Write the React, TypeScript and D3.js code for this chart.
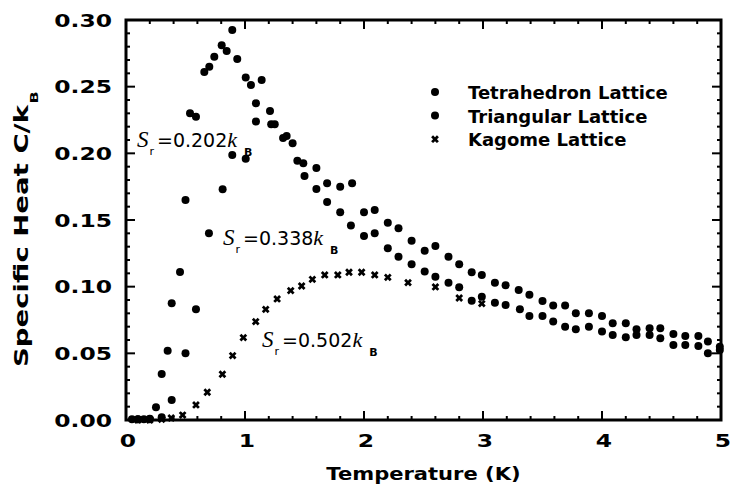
import React from "react";
import * as d3 from "d3";

// ---- data ----
const tetraT = [0.05, 0.1, 0.15, 0.2, 0.252, 0.3, 0.35, 0.384, 0.454, 0.5, 0.538, 0.588, 0.658, 0.7, 0.742, 0.804, 0.846, 0.893, 0.935, 1.006, 1.05, 1.092, 1.14, 1.21, 1.25, 1.35, 1.44, 1.49, 1.6, 1.69, 1.8, 1.9, 2.0, 2.09, 2.2, 2.29, 2.4, 2.51, 2.6, 2.71, 2.8, 2.905, 2.99, 3.1, 3.19, 3.3, 3.39, 3.5, 3.59, 3.69, 3.78, 3.89, 4.0, 4.09, 4.2, 4.29, 4.4, 4.49, 4.6, 4.7, 4.81, 4.89, 4.99];
const tetraC = [0.0005, 0.0005, 0.0005, 0.001, 0.0095, 0.0345, 0.052, 0.0875, 0.111, 0.165, 0.23, 0.2275, 0.261, 0.265, 0.2725, 0.281, 0.2768, 0.2925, 0.2708, 0.2568, 0.2513, 0.2375, 0.255, 0.2318, 0.2218, 0.213, 0.1945, 0.1925, 0.189, 0.1775, 0.175, 0.1775, 0.1558, 0.1575, 0.148, 0.1438, 0.1345, 0.127, 0.1305, 0.1225, 0.1168, 0.1108, 0.1088, 0.103, 0.101, 0.0975, 0.094, 0.0893, 0.0858, 0.0858, 0.08, 0.08, 0.078, 0.0725, 0.0725, 0.068, 0.0688, 0.0688, 0.0645, 0.063, 0.063, 0.0588, 0.055];

const triT = [0.1, 0.2, 0.3, 0.384, 0.5, 0.588, 0.697, 0.812, 0.893, 1.006, 1.092, 1.22, 1.32, 1.4, 1.5, 1.6, 1.69, 1.8, 1.89, 2.0, 2.09, 2.2, 2.29, 2.4, 2.51, 2.6, 2.71, 2.8, 2.905, 2.99, 3.1, 3.19, 3.31, 3.39, 3.5, 3.59, 3.69, 3.78, 3.89, 4.0, 4.09, 4.2, 4.29, 4.4, 4.49, 4.6, 4.7, 4.81, 4.89, 4.99];
const triC = [0.0005, 0.0005, 0.002, 0.015, 0.05, 0.083, 0.14, 0.173, 0.1988, 0.196, 0.2238, 0.2218, 0.2115, 0.2075, 0.183, 0.1733, 0.1635, 0.1558, 0.1458, 0.138, 0.14, 0.1288, 0.1225, 0.1168, 0.1113, 0.1075, 0.103, 0.0995, 0.0895, 0.0925, 0.088, 0.0863, 0.083, 0.078, 0.078, 0.0738, 0.07, 0.068, 0.07, 0.0663, 0.0638, 0.062, 0.0638, 0.0638, 0.0613, 0.0563, 0.0563, 0.0555, 0.05, 0.0525];

const kagT = [0.1, 0.2, 0.3, 0.38, 0.476, 0.588, 0.683, 0.81, 0.896, 0.986, 1.09, 1.174, 1.27, 1.384, 1.476, 1.566, 1.67, 1.78, 1.874, 1.98, 2.09, 2.2, 2.37, 2.6, 2.8, 2.99];
const kagC = [0.0, 0.0, 0.0005, 0.0015, 0.0037, 0.0113, 0.0208, 0.0343, 0.0483, 0.0618, 0.0738, 0.083, 0.0908, 0.097, 0.1005, 0.1055, 0.1088, 0.1088, 0.1108, 0.1108, 0.1088, 0.107, 0.103, 0.0998, 0.0915, 0.0873];

const xTicks = [0, 1, 2, 3, 4, 5];
const yTicks = [0, 0.05, 0.1, 0.15, 0.2, 0.25, 0.3];
const legendLabels = ["Tetrahedron Lattice", "Triangular Lattice", "Kagome Lattice"];
const srValues = ["0.202", "0.338", "0.502"];
const srAnchorT = [0.092, 0.815, 1.143];
const srAnchorC = [0.2048, 0.131, 0.055];

const W = 730, H = 494;
const x = d3.scaleLinear().domain([0, 5]).range([126, 721]);
const y = d3.scaleLinear().domain([0, 0.3]).range([420, 20]);

const SANS = "DejaVu Sans";
const SERIF = "Liberation Serif";
const R = 4;

const crossPath = d3.symbol().type(d3.symbolCross).size(38)() as string;

function Cross({ cx, cy }: { cx: number; cy: number }) {
  return <path d={crossPath} transform={`translate(${cx},${cy}) rotate(45)`} fill="#000" />;
}

export default function App() {
  const xMinor = d3.range(0, 5.0001, 0.2).map((v) => +v.toFixed(2));
  const yMinor = d3.range(0, 0.3001, 0.01).map((v) => +v.toFixed(3));
  const [x0, x1] = x.range();
  const [y0, y1] = y.range();
  const isMajorX = (v: number) => Math.abs(v - Math.round(v)) < 1e-6;
  const isMajorY = (v: number) => Math.abs(v / 0.05 - Math.round(v / 0.05)) < 1e-6;

  return (
    <svg width={W} height={H} style={{ position: "absolute", left: 0, top: 0, background: "#fff" }}>
      <rect width={W} height={H} fill="#fff" />
      {/* ticks */}
      <g stroke="#000" strokeWidth={2}>
        {xMinor.map((v) => {
          const L = isMajorX(v) ? 9 : 4;
          return (
            <g key={"xt" + v}>
              <line x1={x(v)} x2={x(v)} y1={y0} y2={y0 - L} />
              <line x1={x(v)} x2={x(v)} y1={y1} y2={y1 + L} />
            </g>
          );
        })}
        {yMinor.map((v) => {
          const L = isMajorY(v) ? 9 : 4;
          return (
            <g key={"yt" + v}>
              <line x1={x0} x2={x0 + L} y1={y(v)} y2={y(v)} />
              <line x1={x1} x2={x1 - L} y1={y(v)} y2={y(v)} />
            </g>
          );
        })}
      </g>
      <rect x={x0} y={y1} width={x1 - x0} height={y0 - y1} fill="none" stroke="#000" strokeWidth={3} />

      {/* tick labels */}
      <g fontFamily={SANS} fontWeight="bold" fontSize={18} fill="#000">
        {yTicks.map((v) => (
          <text key={"yl" + v} textAnchor="end" transform={`translate(112,${y(v) + 6.5}) scale(1.3,1)`}>
            {v.toFixed(2)}
          </text>
        ))}
        {xTicks.map((v) => (
          <text key={"xl" + v} textAnchor="middle" transform={`translate(${x(v) + 2},447) scale(1.3,1)`}>
            {v}
          </text>
        ))}
        <text textAnchor="middle" transform={`translate(${(x0 + x1) / 2},480) scale(1.17,1)`}>
          Temperature (K)
        </text>
        <text fontSize={19} transform={`translate(28,367) rotate(-90) scale(1.45,1)`}>
          Specific Heat C/k
          <tspan fontSize={11} dx={1} dy={10}>B</tspan>
        </text>
      </g>

      {/* data */}
      <g fill="#000">
        {triT.map((t, i) => (
          <circle key={"tr" + i} cx={x(t)} cy={y(triC[i])} r={R} />
        ))}
        {tetraT.map((t, i) => (
          <circle key={"te" + i} cx={x(t)} cy={y(tetraC[i])} r={R} />
        ))}
        {kagT.map((t, i) => (
          <Cross key={"k" + i} cx={x(t)} cy={y(kagC[i])} />
        ))}
      </g>

      {/* legend */}
      <g fontFamily={SANS} fontWeight="bold" fontSize={18} fill="#000">
        {legendLabels.map((lab, i) => {
          const cy = 92 + i * 23.6;
          return (
            <g key={lab}>
              {i < 2 ? <circle cx={435} cy={cy} r={R} /> : <Cross cx={435} cy={cy} />}
              <text x={468} y={cy + 7}>{lab}</text>
            </g>
          );
        })}
      </g>

      {/* residual entropy annotations */}
      <g fill="#000" fontFamily={SANS} fontSize={19}>
        {srValues.map((v, i) => (
          <text key={"sr" + i} x={x(srAnchorT[i])} y={y(srAnchorC[i])}>
            <tspan fontFamily={SERIF} fontStyle="italic" fontSize={23}>S</tspan>
            <tspan fontSize={11} dx={1} dy={8}>r</tspan>
            <tspan dx={3} dy={-8}>={v}</tspan>
            <tspan fontFamily={SERIF} fontStyle="italic" fontSize={22}>k</tspan>
            <tspan fontSize={11} fontWeight="bold" dx={7} dy={9}>B</tspan>
          </text>
        ))}
      </g>
    </svg>
  );
}
